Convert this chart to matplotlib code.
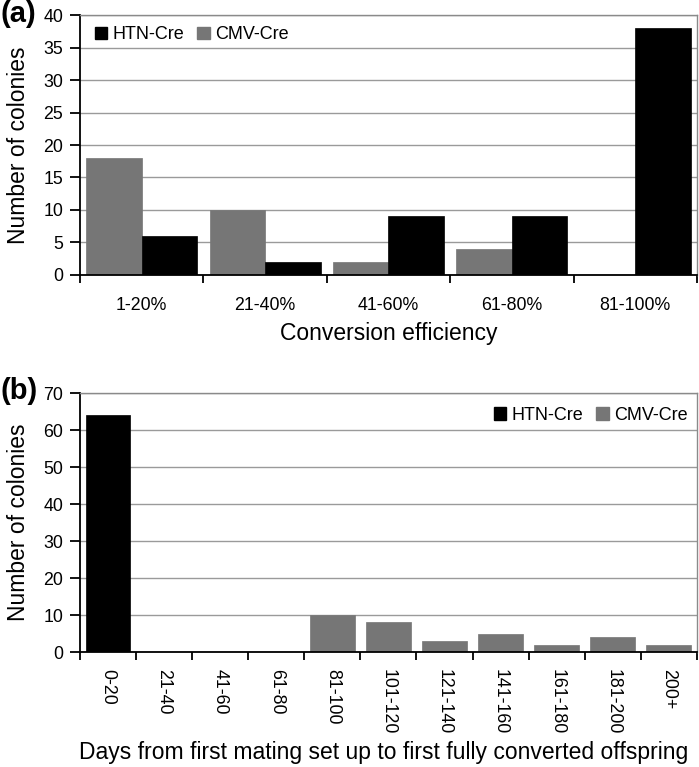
import matplotlib
matplotlib.use("Agg")
import matplotlib.pyplot as plt
import numpy as np
from matplotlib.patches import Patch

plt.rcParams["font.family"] = ["Liberation Sans", "DejaVu Sans"]

# panel (a)
eff_labels = ["1-20%", "21-40%", "41-60%", "61-80%", "81-100%"]
eff_cmv = [18, 10, 2, 4, 0]
eff_htn = [6, 2, 9, 9, 38]

# panel (b)
day_labels = ["0-20", "21-40", "41-60", "61-80", "81-100", "101-120",
              "121-140", "141-160", "161-180", "181-200", "200+"]
day_htn = [64, 0, 0, 0, 0, 0, 0, 0, 0, 0, 0]
day_cmv = [0, 0, 0, 0, 10, 8, 3, 5, 2, 4, 2]

BLACK = "#000000"
GRAY = "#767676"
TICK_FS = 12.8
LABEL_FS = 16.5
LEG_FS = 13


def style_axes(ax, ymax, ystep, ncat):
    ax.set_ylim(0, ymax)
    ax.set_xlim(-0.5, ncat - 0.5)
    ax.set_yticks(np.arange(0, ymax + 1, ystep))
    ax.yaxis.grid(True, color="#9a9a9a", linewidth=1.0)
    ax.set_axisbelow(True)
    for side in ["top", "right"]:
        ax.spines[side].set_color("#8a8a8a")
        ax.spines[side].set_linewidth(1.0)
    for side in ["left", "bottom"]:
        ax.spines[side].set_color("black")
        ax.spines[side].set_linewidth(1.3)
    ax.tick_params(axis="y", labelsize=TICK_FS, length=7, width=1.3, pad=5)
    # category boundaries as major ticks, labels on minor ticks
    ax.set_xticks(np.arange(-0.5, ncat, 1.0))
    ax.set_xticklabels([])
    ax.set_xticks(np.arange(ncat), minor=True)
    ax.tick_params(axis="x", which="major", length=6, width=1.3, direction="out")
    ax.tick_params(axis="x", which="minor", length=0, labelsize=TICK_FS)
    ax.set_ylabel("Number of colonies", fontsize=LABEL_FS)
    ax.yaxis.set_label_coords(-0.081, 0.5)


fig = plt.figure(figsize=(6.99, 7.67), dpi=100)
handles = [Patch(color=BLACK), Patch(color=GRAY)]
leg_kw = dict(ncol=2, frameon=False, fontsize=LEG_FS, handlelength=0.7,
              handleheight=0.7, handletextpad=0.3, columnspacing=0.7)

# (a)
ax1 = fig.add_axes([0.1144, 0.6415, 0.8826, 0.3389])
x = np.arange(len(eff_labels))
w = 0.45
ax1.bar(x - w / 2, eff_cmv, w, color=GRAY, edgecolor=GRAY, linewidth=0.5, zorder=2)
ax1.bar(x + w / 2, eff_htn, w, color=BLACK, edgecolor=BLACK, linewidth=0.5, zorder=2)
style_axes(ax1, 40, 5, len(eff_labels))
ax1.set_xticklabels(eff_labels, minor=True)
ax1.tick_params(axis="x", which="minor", pad=16)
ax1.set_xlabel("Conversion efficiency", fontsize=LABEL_FS)
ax1.xaxis.set_label_coords(0.5, -0.18)
ax1.legend(handles, ["HTN-Cre", "CMV-Cre"], loc="upper left",
           bbox_to_anchor=(0.012, 0.985), borderaxespad=0.0, **leg_kw)
fig.text(0.0, 1.0, "(a)", fontsize=21, fontweight="bold", va="top", ha="left")

# (b)
ax2 = fig.add_axes([0.1144, 0.1499, 0.8826, 0.3377])
x2 = np.arange(len(day_labels))
ax2.bar(x2, day_htn, 0.8, color=BLACK, edgecolor=BLACK, linewidth=0.5, zorder=2)
ax2.bar(x2, day_cmv, 0.8, color=GRAY, edgecolor=GRAY, linewidth=0.5, zorder=2)
style_axes(ax2, 70, 10, len(day_labels))
ax2.set_xticklabels(day_labels, minor=True, rotation=270, va="top")
ax2.tick_params(axis="x", which="minor", pad=12)
ax2.set_xlabel("Days from first mating set up to first fully converted offspring",
               fontsize=LABEL_FS)
ax2.xaxis.set_label_coords(0.493, -0.345)
ax2.legend(handles, ["HTN-Cre", "CMV-Cre"], loc="upper right",
           bbox_to_anchor=(0.997, 0.975), borderaxespad=0.0, **leg_kw)
fig.text(0.0, 0.508, "(b)", fontsize=21, fontweight="bold", va="top", ha="left")

fig.savefig("out.png", dpi=100)
